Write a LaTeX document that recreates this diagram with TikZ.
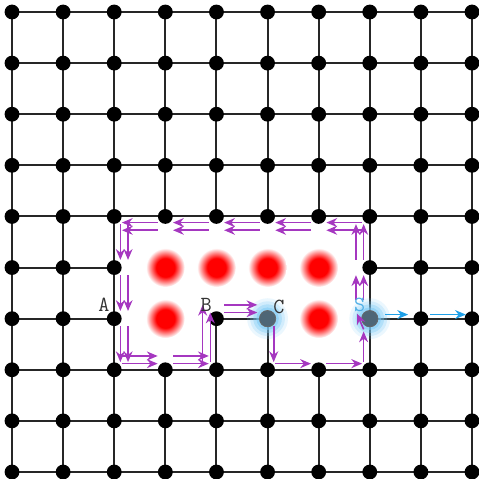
\documentclass[tikz,border=0pt]{standalone}
\usepackage{tikz}
\usetikzlibrary{arrows.meta,calc}

\definecolor{trackpurple}{RGB}{165,55,192}
\definecolor{flowblue}{RGB}{30,160,232}
\definecolor{slatenode}{RGB}{78,102,118}
\definecolor{glowblue}{RGB}{120,200,245}
\definecolor{labelblue}{RGB}{80,175,230}

\pgfdeclareradialshading{redblob}{\pgfpointorigin}{color(0bp)=(red); color(12bp)=(red); color(25bp)=(white); color(50bp)=(white)}

\def\oa{0.12}
\def\ob{0.27}

\begin{document}
\begin{tikzpicture}[
    gridline/.style={line width=1.1pt, draw=black!85},
    dot/.style={circle, fill=black, inner sep=0pt, minimum size=0.29cm},
    defect/.style={circle, fill=slatenode, draw=black!60, line width=0.4pt, inner sep=0pt, minimum size=0.32cm},
    track/.style={-{Stealth[length=6pt,width=5pt]}, trackpurple, line width=0.9pt, shorten <=0.15cm, shorten >=0.15cm},
    flow/.style={-{Stealth[length=6pt,width=5pt]}, flowblue, line width=0.9pt},
    lbl/.style={font=\ttfamily\fontsize{12}{14}\selectfont, text=black!80, inner sep=0pt}
]
    \useasboundingbox (-0.235,-9.137) rectangle (9.137,0.235);

    % Lattice sites
    \foreach \i in {0,...,9}
        \foreach \j in {0,...,9}
            \coordinate (n-\i-\j) at (\i,-\j);

    % Horizontal bonds (cut inside the hole)
    \foreach \i in {0,...,8} {
        \foreach \j in {0,...,9} {
            \pgfmathtruncatemacro{\k}{\i+1}
            \pgfmathtruncatemacro{\hole}{(\j>4)*(\j<7)*(\i>1)*(\i<7)*(1-(\i==4)*(\j==6))}
            \ifnum\hole=0 \draw[gridline] (n-\i-\j) -- (n-\k-\j); \fi
        }
    }

    % Vertical bonds (cut inside the hole)
    \foreach \i in {0,...,9} {
        \foreach \j in {0,...,8} {
            \pgfmathtruncatemacro{\k}{\j+1}
            \pgfmathtruncatemacro{\hole}{(\i>2)*(\i<7)*(\j>3)*(\j<7)*(1-(\j==6)*(\i>3)*(\i<6))}
            \ifnum\hole=0 \draw[gridline] (n-\i-\j) -- (n-\i-\k); \fi
        }
    }

    % Removed sites
    \foreach \p in {3-5,4-5,5-5,6-5,3-6,6-6}
        \shade[shading=redblob] (n-\p) circle (0.38);

    % Glow round C and S
    \foreach \p in {5-6,7-6}
        \foreach \r/\op in {0.4/0.15,0.34/0.22,0.28/0.35,0.22/0.5}
            \fill[glowblue, opacity=\op] (n-\p) circle (\r);

    % Sites
    \foreach \i in {0,...,9} {
        \foreach \j in {0,...,9} {
            \pgfmathtruncatemacro{\hole}{(\j==5)*(\i>2)*(\i<7)+(\j==6)*((\i==3)+(\i==5)+(\i==6)+(\i==7))}
            \ifnum\hole=0 \node[dot] (d-\i-\j) at (n-\i-\j) {}; \fi
        }
    }
    \node[defect] (d-5-6) at (n-5-6) {};
    \node[defect] (d-7-6) at (n-7-6) {};

    % Edge tracks round the hole
    \foreach \offs in {\oa,\ob} {
        \draw[track, shorten <=0.36cm] ($(n-7-6)+(-\offs,0)$) -- ($(n-7-5)+(-\offs,0)$);
        \draw[track] ($(n-7-5)+(-\offs,0)$) -- ($(n-7-4)+(-\offs,0)$);
        \foreach \i/\k in {7/6,6/5,5/4,4/3,3/2}
            \draw[track] ($(n-\i-4)+(0,-\offs)$) -- ($(n-\k-4)+(0,-\offs)$);
        \foreach \j/\k in {4/5,5/6,6/7}
            \draw[track] ($(n-2-\j)+(\offs,0)$) -- ($(n-2-\k)+(\offs,0)$);
        \foreach \i/\k in {2/3,3/4}
            \draw[track] ($(n-\i-7)+(0,\offs)$) -- ($(n-\k-7)+(0,\offs)$);
        \draw[track, shorten >=0pt] ($(n-4-7)+(-\offs,0)$) -- ($(n-4-6)+(-\offs,\offs)$);
        \draw[track, shorten >=0.2cm] ($(n-4-6)+(0,\offs)$) -- ($(n-5-6)+(0,\offs)$);
    }

    % From C back to S
    \draw[track] ($(n-5-6)+(\oa,0)$) -- ($(n-5-7)+(\oa,0)$);
    \foreach \i/\k in {5/6,6/7}
        \draw[track] ($(n-\i-7)+(0,\oa)$) -- ($(n-\k-7)+(0,\oa)$);
    \draw[track, shorten >=0.25cm] ($(n-7-7)+(-\oa,0)$) -- ($(n-7-6)+(-\oa,0)$);
    \draw[track, shorten <=0pt, shorten >=0pt] ($(n-7-6)+(-\oa,-0.21)$) -- ($(n-7-6)+(-\ob+0.02,0.1)$);

    % Flow out of S
    \draw[flow, shorten <=0.3cm, shorten >=0.25cm] ($(n-7-6)+(0,0.08)$) -- ($(n-8-6)+(0,0.08)$);
    \draw[flow, shorten <=0.18cm, shorten >=0.12cm] ($(n-8-6)+(0,0.08)$) -- ($(n-9-6)+(0,0.08)$);

    % Labels
    \node[lbl] (lab-a) at ($(n-2-6)+(-0.2,0.27)$) {A};
    \node[lbl] (lab-b) at ($(n-4-6)+(-0.2,0.27)$) {B};
    \node[lbl] (lab-c) at ($(n-5-6)+(0.22,0.23)$) {C};
    \node[lbl, text=labelblue] (lab-s) at ($(n-7-6)+(-0.2,0.27)$) {S};
\end{tikzpicture}
\end{document}
